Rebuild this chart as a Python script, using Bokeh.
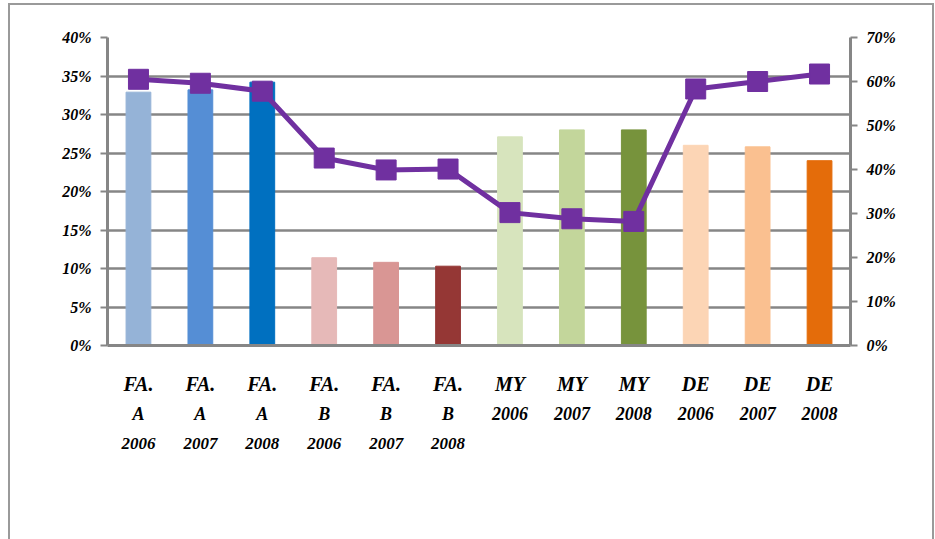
from bokeh.plotting import figure
from bokeh.models import (FactorRange, Range1d, LinearAxis, FixedTicker, NumeralTickFormatter,
                          Legend, LegendItem, ColumnDataSource, CategoricalAxis, CustomJSTickFormatter)
from bokeh.embed import file_html
from bokeh.resources import INLINE

categories = ["FA. A 2006", "FA. A 2007", "FA. A 2008",
              "FA. B 2006", "FA. B 2007", "FA. B 2008",
              "MY 2006", "MY 2007", "MY 2008",
              "DE 2006", "DE 2007", "DE 2008"]
label_line1 = ["FA.", "FA.", "FA.", "FA.", "FA.", "FA.", "MY", "MY", "MY", "DE", "DE", "DE"]
label_line2 = ["A", "A", "A", "B", "B", "B", "2006", "2007", "2008", "2006", "2007", "2008"]
label_line3 = ["2006", "2007", "2008", "2006", "2007", "2008", "", "", "", "", "", ""]
moyenne = [0.329, 0.332, 0.342, 0.114, 0.108, 0.103, 0.271, 0.280, 0.280, 0.260, 0.258, 0.240]
coef_variation = [0.605, 0.596, 0.578, 0.426, 0.399, 0.401, 0.302, 0.288, 0.282, 0.583, 0.600, 0.617]
bar_colors = ["#95B3D7", "#558ED5", "#0070C0", "#E6B9B8", "#D99694", "#953735",
              "#D7E4BD", "#C3D69B", "#77933C", "#FCD5B5", "#FAC090", "#E46C0A"]
left_ticks = [0, 0.05, 0.10, 0.15, 0.20, 0.25, 0.30, 0.35, 0.40]
right_ticks = [0, 0.1, 0.2, 0.3, 0.4, 0.5, 0.6, 0.7]

FONT = "Liberation Serif"
GRAY = "#868686"

src = ColumnDataSource(dict(cat=categories, moy=moyenne, cv=coef_variation, color=bar_colors))

p = figure(x_range=FactorRange(*categories), y_range=Range1d(0, 0.40),
           frame_width=743, frame_height=308, output_backend="svg", toolbar_location=None,
           x_axis_location=None,
           min_border_left=97, min_border_right=82, min_border_top=32, min_border_bottom=189)
p.extra_y_ranges = {"cv": Range1d(0, 0.70)}
p.outline_line_color = None
p.styles = {"border": "2px solid #9a9a9a", "margin-left": "8px", "margin-top": "3px"}

bars = p.vbar(x="cat", top="moy", width=0.4, color="color", source=src)
line = p.line(x="cat", y="cv", line_color="#7030A0", line_width=5, y_range_name="cv", source=src)
marks = p.scatter(x="cat", y="cv", marker="square", size=20, fill_color="#7030A0",
                  line_color="#7030A0", y_range_name="cv", source=src)

JS = "const i = cats.indexOf(tick); return i >= 0 ? lines[i] : '';"

# x axis: three label lines
specs = ((label_line1, "20px", 27), (label_line2, "18px", 6), (label_line3, "17px", 11))
for i, (lines, size, standoff) in enumerate(specs):
    ax = CategoricalAxis()
    ax.formatter = CustomJSTickFormatter(args=dict(cats=categories, lines=lines), code=JS)
    if i == 0:
        ax.axis_line_color = GRAY
        ax.axis_line_width = 3
    else:
        ax.axis_line_color = None
    ax.major_tick_line_color = None
    ax.minor_tick_line_color = None
    ax.major_tick_out = 0
    ax.major_tick_in = 0
    ax.major_label_text_font = FONT
    ax.major_label_text_font_style = "bold italic"
    ax.major_label_text_font_size = size
    ax.major_label_text_color = "black"
    ax.major_label_standoff = standoff
    p.add_layout(ax, "below")

# y axes
ya = p.yaxis[0]
ya.ticker = FixedTicker(ticks=left_ticks)
ya.formatter = NumeralTickFormatter(format="0%")
ry = LinearAxis(y_range_name="cv", ticker=FixedTicker(ticks=right_ticks),
                formatter=NumeralTickFormatter(format="0%"))
p.add_layout(ry, "right")
for ax in (ya, ry):
    ax.axis_line_color = GRAY
    ax.axis_line_width = 3
    ax.major_tick_line_color = GRAY
    ax.major_tick_line_width = 2
    ax.major_tick_in = 0
    ax.major_tick_out = 7
    ax.minor_tick_line_color = None
    ax.major_label_text_font = FONT
    ax.major_label_text_font_style = "bold italic"
    ax.major_label_text_font_size = "16px"
    ax.major_label_text_color = "black"
    ax.major_label_standoff = 9

p.xgrid.grid_line_color = None
p.ygrid.ticker = FixedTicker(ticks=left_ticks)
p.ygrid.grid_line_color = GRAY
p.ygrid.grid_line_width = 2.5

# legend-only swatch for the bars (a one-point thick line draws nothing on the plot)
legend_swatch = p.line(x=[categories[0]], y=[0.0], line_color="#4F81BD", line_width=12)
legend = Legend(items=[LegendItem(label="Moyenne", renderers=[legend_swatch]),
                       LegendItem(label="Coef. de variation", renderers=[line, marks])],
                orientation="horizontal", location="center",
                glyph_width=52, glyph_height=40, spacing=40, label_standoff=8,
                label_text_font=FONT, label_text_font_style="bold italic",
                label_text_font_size="19px", border_line_color=None,
                background_fill_alpha=0, margin=17, padding=2)
p.add_layout(legend, "below")

open("out.html", "w").write(file_html(p, INLINE))
